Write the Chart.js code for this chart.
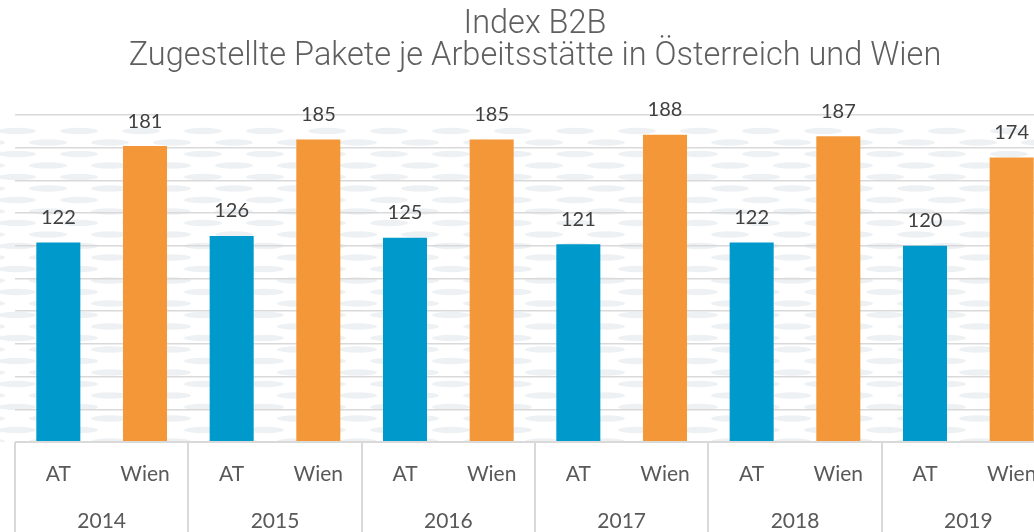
<!DOCTYPE html>
<html>
<head>
<meta charset="utf-8">
<script src="https://cdn.jsdelivr.net/npm/chart.js@4.4.1/dist/chart.umd.min.js"></script>
<style>
    html, body { margin: 0; padding: 0; background: #fff; overflow: hidden; }
    #wrap { width: 1068px; height: 532px; position: relative; }
</style>
</head>
<body>
<div id="wrap"><canvas id="chart"></canvas></div>
<script>
// Data
var years = ['2014', '2015', '2016', '2017', '2018', '2019'];
var subLabels = ['AT', 'Wien'];
var atValues = [122, 126, 125, 121, 122, 120];
var wienValues = [181, 185, 185, 188, 187, 174];
var titleLines = ['Index B2B', 'Zugestellte Pakete je Arbeitsstätte in Österreich und Wien'];

var blue = '#0099cc';
var orange = '#f39739';
var gridColor = '#d9d9d9';

// one bar per (year, sub label)
var labels = [];
var values = [];
var colors = [];
years.forEach(function(y, i) {
    labels.push(subLabels[0]);
    values.push(atValues[i]);
    colors.push(blue);
    labels.push(subLabels[1]);
    values.push(wienValues[i]);
    colors.push(orange);
});

// faint ellipse pattern behind the plot
var backgroundPattern = {
    id: 'backgroundPattern',
    beforeDraw: function(chart) {
        var ctx = chart.ctx;
        var area = chart.chartArea;
        ctx.save();
        ctx.beginPath();
        ctx.rect(0, area.top + 8, chart.width, area.bottom - area.top - 8);
        ctx.clip();
        ctx.fillStyle = '#eef1f4';
        var row = 0;
        for (var y = area.top + 16; y < area.bottom + 10; y += 11.5) {
            var shift = ((row * 31) % 62);
            for (var x = area.left - 60 + shift; x < chart.width + 60; x += 62) {
                ctx.beginPath();
                ctx.ellipse(x, y, 19, 3.3, 0, 0, Math.PI * 2);
                ctx.fill();
            }
            row++;
        }
        ctx.restore();
    }
};

// value labels above the bars
var valueLabels = {
    id: 'valueLabels',
    afterDatasetsDraw: function(chart) {
        var ctx = chart.ctx;
        var meta = chart.getDatasetMeta(0);
        ctx.save();
        ctx.fillStyle = '#404040';
        ctx.font = '20px Lato';
        ctx.textAlign = 'center';
        ctx.textBaseline = 'middle';
        meta.data.forEach(function(bar, i) {
            ctx.fillText(String(values[i]), bar.x, bar.y - 25);
        });
        ctx.restore();
    }
};

// boxes round the two label rows
var groupLines = {
    id: 'groupLines',
    afterDraw: function(chart) {
        var ctx = chart.ctx;
        var x2 = chart.scales.x2;
        var area = chart.chartArea;
        var step = (x2.right - x2.left) / years.length;
        ctx.save();
        ctx.strokeStyle = gridColor;
        ctx.lineWidth = 2;
        for (var i = 0; i <= years.length; i++) {
            var x = Math.round(x2.left + i * step);
            ctx.beginPath();
            ctx.moveTo(x, area.bottom);
            ctx.lineTo(x, chart.height);
            ctx.stroke();
        }
        ctx.beginPath();
        ctx.moveTo(area.left, area.bottom);
        ctx.lineTo(area.right, area.bottom);
        ctx.stroke();
        ctx.restore();
    }
};

var ctx = document.getElementById('chart').getContext('2d');
var chart = new Chart(ctx, {
    type: 'bar',
    data: {
        labels: labels,
        datasets: [{
            data: values,
            backgroundColor: colors,
            barPercentage: 0.508,
            categoryPercentage: 1.0
        }]
    },
    options: {
        responsive: true,
        maintainAspectRatio: false,
        animation: false,
        layout: {
            padding: { left: 15, right: 13, top: 0, bottom: 0 }
        },
        plugins: {
            legend: { display: false },
            tooltip: { enabled: false },
            title: {
                display: true,
                text: titleLines,
                color: '#5f5f5f',
                font: { family: 'Roboto', size: 32.5, weight: '300', lineHeight: 0.985 },
                padding: { top: 9, bottom: 42 }
            }
        },
        scales: {
            x: {
                position: 'bottom',
                grid: { display: false, drawTicks: false },
                border: { display: false },
                ticks: {
                    color: '#595959',
                    font: { family: 'Lato', size: 21, lineHeight: 1.2 },
                    padding: 20,
                    maxRotation: 0,
                    autoSkip: false
                },
                afterFit: function(scale) { scale.height = 45; }
            },
            x2: {
                type: 'category',
                position: 'bottom',
                labels: years,
                offset: true,
                grid: { display: false, drawTicks: false },
                border: { display: false },
                ticks: {
                    color: '#595959',
                    font: { family: 'Lato', size: 21, lineHeight: 1.2 },
                    padding: 22,
                    maxRotation: 0,
                    autoSkip: false
                },
                afterFit: function(scale) { scale.height = 45; }
            },
            y: {
                min: 0,
                max: 200,
                ticks: { display: false, stepSize: 20 },
                border: { display: false },
                grid: { color: gridColor, lineWidth: 1.5, drawTicks: false },
                afterFit: function(scale) { scale.width = 0; }
            }
        }
    },
    plugins: [backgroundPattern, valueLabels, groupLines]
});
</script>
</body>
</html>
